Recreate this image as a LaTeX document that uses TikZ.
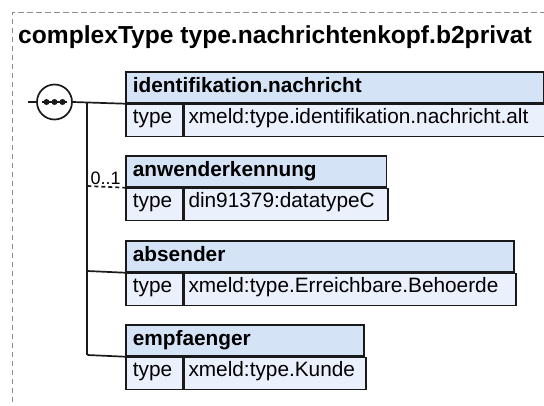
\documentclass[tikz,border=0pt]{standalone}
\usepackage{fontspec}
\setmainfont{Liberation Sans}
\definecolor{lineC}{HTML}{1A1A1A}
\definecolor{hdrC}{HTML}{D5E3F7}
\definecolor{valC}{HTML}{EAF1FC}
\definecolor{frameC}{HTML}{8C8C8C}
\begin{document}
\begin{tikzpicture}[x=1pt,y=-1pt,
  cell/.style={draw=lineC, line width=1.7pt, anchor=north west, inner sep=0pt, minimum height=#1},
  hdr/.style={cell=31pt, fill=hdrC},
  tcell/.style={cell=32pt, fill=valC, minimum width=56.7pt},
  vcell/.style={cell=32pt, fill=valC},
  hlabel/.style={anchor=base west, inner sep=0pt, font=\fontsize{20.8}{24}\selectfont\bfseries},
  vlabel/.style={anchor=base west, inner sep=0pt, font=\fontsize{20.8}{24}\selectfont},
  conn/.style={draw=lineC, line width=1.7pt}
]
\useasboundingbox (0,0) rectangle (544,405);
% frame
\draw[frameC, line width=0.9pt, dash pattern=on 5.5pt off 3.5pt] (12,420) -- (12,12) -- (560,12);
\node[anchor=base west, inner sep=0pt, font=\fontsize{24.6}{28}\selectfont\bfseries] (title) at (18,43.3) {complexType type.nachrichtenkopf.b2privat};

% box 1
\node[hdr, minimum width=418pt] (h1) at (125,71) {};
\node[tcell] (t1) at (h1.south west) {};
\node[vcell, minimum width=361.3pt] (v1) at (t1.north east) {};
\node[hlabel] (h1l) at (132.7,92) {identifikation.nachricht};
\node[vlabel] (t1l) at (132.7,123.8) {type};
\node[vlabel] (v1l) at (188.3,123.8) {xmeld:type.identifikation.nachricht.alt};

% box 2
\node[hdr, minimum width=260.7pt] (h2) at (125,155) {};
\node[tcell] (t2) at (h2.south west) {};
\node[vcell, minimum width=204pt] (v2) at (t2.north east) {};
\node[hlabel] (h2l) at (132.7,176) {anwenderkennung};
\node[vlabel] (t2l) at (132.7,207.8) {type};
\node[vlabel] (v2l) at (188.3,207.8) {din91379:datatypeC};

% box 3
\node[hdr, minimum width=388.3pt] (h3) at (125,240) {};
\node[tcell] (t3) at (h3.south west) {};
\node[vcell, minimum width=331.6pt] (v3) at (t3.north east) {};
\node[hlabel] (h3l) at (132.7,261) {absender};
\node[vlabel] (t3l) at (132.7,292.8) {type};
\node[vlabel] (v3l) at (188.3,292.8) {xmeld:type.Erreichbare.Behoerde};

% box 4
\node[hdr, minimum width=238.3pt] (h4) at (125,324) {};
\node[tcell] (t4) at (h4.south west) {};
\node[vcell, minimum width=181.6pt] (v4) at (t4.north east) {};
\node[hlabel] (h4l) at (132.7,345) {empfaenger};
\node[vlabel] (t4l) at (132.7,376.8) {type};
\node[vlabel] (v4l) at (188.3,376.8) {xmeld:type.Kunde};

% sequence compositor
\node[draw=lineC, fill=white, line width=1.7pt, circle, minimum size=35pt, inner sep=0pt] (seq) at (54.5,102) {};
\coordinate (in) at (28,102);
\coordinate (j1) at (87.3,102);
\coordinate (j2) at (87.3,186);
\coordinate (j3) at (87.3,271);
\coordinate (j4) at (87.3,355);
\draw[conn] (in) -- (seq.west);
\draw[conn] (seq.east) -- (h1.south west);
\draw[conn] (j1) -- (j4);
\draw[conn, dash pattern=on 4pt off 3pt] (j2) -- (h2.south west);
\draw[conn] (j3) -- (h3.south west);
\draw[conn] (j4) -- (h4.south west);
\coordinate (sa) at (42,102);
\coordinate (sb) at (67,102);
\draw[conn] (sa) -- (sb);
\fill[lineC] (46.5,102) circle (3pt) (54.5,102) circle (3pt) (62.5,102) circle (3pt);
\node[anchor=base west, inner sep=0pt, font=\fontsize{18}{20}\selectfont] (occ) at (90.5,184) {0..1};
\end{tikzpicture}
\end{document}
